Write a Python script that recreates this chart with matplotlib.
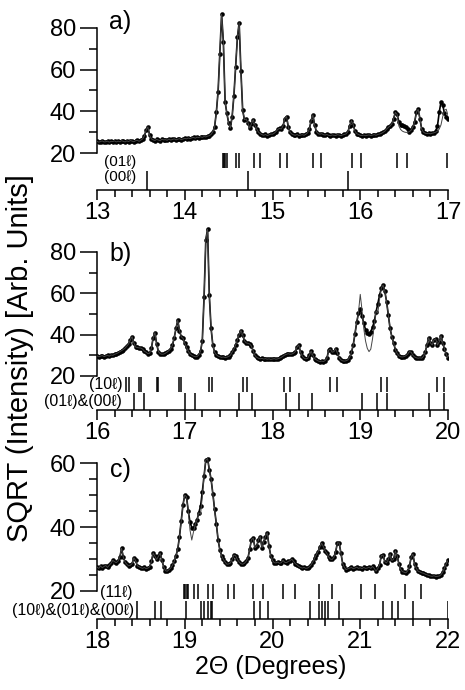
import numpy as np
import matplotlib
matplotlib.use('Agg')
import matplotlib.pyplot as plt
from matplotlib.ticker import MultipleLocator, FixedLocator

plt.rcParams['font.family'] = ['Liberation Sans', 'DejaVu Sans']

# ---------------- data ----------------
STEP = 0.02

# panel a: 13.00 .. 17.00, step 0.02 (rows of 10 points = 0.2 deg)
obs_a = [
    25.6, 25.2, 25.5, 25.8, 25.3, 25.4, 25.7, 25.2, 25.6, 25.5,   # 13.0
    25.8, 25.3, 25.7, 25.4, 25.9, 25.6, 25.3, 25.8, 25.5, 26.0,   # 13.2
    25.7, 25.4, 25.9, 26.1, 25.6, 26.2, 26.8, 28.2, 31.0, 32.5,   # 13.4
    28.5, 26.8, 26.3, 26.0, 26.5, 26.2, 25.9, 26.6, 26.3, 26.4,   # 13.6
    26.1, 26.7, 26.2, 26.5, 26.8, 26.3, 26.6, 26.9, 26.4, 26.7,   # 13.8
    27.0, 26.8, 27.2, 26.9, 27.3, 27.5, 27.1, 27.6, 27.4, 27.8,   # 14.0
    27.5, 27.9, 27.7, 28.1, 28.3, 28.9, 30.2, 32.5, 39.5, 49.5,   # 14.2
    67.5, 86.5, 73.5, 44.5, 39.0, 34.5, 32.0, 37.5, 47.5, 61.5,   # 14.4
    75.5, 82.5, 59.5, 40.5, 36.0, 36.3, 34.5, 32.0, 34.0, 36.0,   # 14.6
    33.5, 31.5, 30.0, 29.3, 28.8, 28.5, 28.9, 28.4, 28.7, 29.1,   # 14.8
    29.0, 29.5, 30.3, 31.3, 31.8, 31.5, 33.0, 36.5, 37.5, 32.5,   # 15.0
    30.0, 29.1, 28.7, 28.5, 28.9, 28.4, 28.6, 28.8, 28.5, 29.0,   # 15.2
    29.7, 31.5, 35.5, 38.3, 33.5, 30.3, 29.3, 29.0, 29.3, 28.8,   # 15.4
    28.6, 28.9, 28.5, 28.3, 28.7, 28.5, 28.4, 28.8, 28.6, 28.3,   # 15.6
    28.7, 28.9, 29.2, 30.3, 33.0, 35.5, 33.5, 30.5, 29.3, 28.9,   # 15.8
    28.5, 28.4, 28.6, 28.3, 28.5, 28.7, 28.4, 28.6, 28.8, 28.5,   # 16.0
    28.9, 29.1, 29.4, 29.9, 30.5, 31.5, 32.3, 33.0, 34.0, 36.5,   # 16.2
    39.5, 38.5, 35.0, 33.5, 33.3, 33.0, 32.5, 31.5, 30.3, 31.0,   # 16.4
    32.5, 35.0, 39.5, 41.0, 36.5, 31.5, 30.0, 29.5, 29.3, 29.5,   # 16.6
    29.2, 29.5, 29.7, 30.5, 33.0, 39.5, 44.5, 43.0, 39.0, 37.5,   # 16.8
    36.5,                                                          # 17.0
]
calc_a_fix_x = [16.44, 16.46, 16.48, 16.50, 16.52, 16.54, 16.56,
                16.86, 16.88, 16.90, 16.92, 16.94, 16.96, 16.98, 17.00]
calc_a_fix_y = [33.0, 31.3, 30.5, 30.1, 29.9, 29.9, 30.3,
                30.0, 30.5, 31.5, 33.5, 37.5, 40.5, 41.0, 38.0]
refl_a_01l = [14.432, 14.447, 14.462, 14.477, 14.584, 14.618, 14.79, 14.858,
              15.086, 15.16, 15.456, 15.553, 15.905, 16.007, 16.42, 16.533, 16.99]
refl_a_00l = [13.573, 14.72, 15.855]

# panel b: 16.00 .. 20.00
obs_b = [
    29.8, 29.3, 29.6, 29.9, 29.4, 29.7, 30.0, 29.6, 30.2, 30.0,   # 16.0
    30.5, 30.8, 31.2, 31.8, 32.3, 32.8, 33.5, 34.5, 35.5, 37.5,   # 16.2
    39.0, 36.0, 34.0, 33.8, 33.6, 33.5, 33.0, 32.0, 31.5, 30.8,   # 16.4
    31.0, 33.5, 38.5, 41.0, 35.5, 31.8, 30.8, 30.5, 30.6, 31.0,   # 16.6
    31.6, 32.3, 33.2, 35.0, 38.5, 43.0, 47.0, 42.0, 39.0, 38.2,   # 16.8
    36.0, 33.8, 32.0, 30.8, 30.0, 29.6, 29.3, 29.4, 30.2, 32.0,   # 17.0
    37.0, 58.0, 86.0, 91.0, 59.0, 43.0, 35.0, 31.5, 30.3, 29.6,   # 17.2
    29.3, 29.0, 29.2, 28.9, 29.1, 29.4, 30.0, 31.5, 33.0, 35.0,   # 17.4
    37.5, 40.0, 42.0, 40.0, 37.0, 36.0, 35.8, 35.5, 34.5, 32.0,   # 17.6
    30.0, 29.0, 28.6, 28.3, 28.5, 28.2, 28.4, 28.1, 28.3, 28.0,   # 17.8
    28.2, 28.4, 28.1, 28.3, 28.6, 29.0, 29.6, 30.2, 30.5, 30.8,   # 18.0
    30.5, 30.6, 31.0, 31.8, 34.0, 35.0, 31.5, 29.5, 28.6, 28.3,   # 18.2
    28.5, 30.0, 32.0, 30.0, 28.4, 27.8, 27.3, 27.0, 27.2, 27.0,   # 18.4
    27.5, 28.5, 32.5, 33.0, 31.5, 31.8, 33.2, 31.0, 28.8, 27.8,   # 18.6
    27.3, 27.2, 27.4, 27.8, 29.0, 31.5, 35.0, 40.5, 46.0, 50.5,   # 18.8
    52.5, 49.0, 45.5, 42.5, 41.0, 40.5, 41.5, 43.5, 46.5, 51.0,   # 19.0
    55.0, 59.0, 62.5, 64.0, 61.0, 56.0, 49.5, 43.0, 39.0, 36.0,   # 19.2
    32.8, 31.0, 29.8, 29.3, 29.2, 29.4, 29.8, 30.5, 31.8, 31.5,   # 19.4
    30.0, 29.2, 28.8, 28.6, 28.8, 28.6, 29.5, 31.5, 35.0, 38.5,   # 19.6
    36.0, 35.0, 37.5, 38.0, 35.0, 36.5, 39.5, 36.0, 33.0, 30.5,   # 19.8
    28.8,                                                          # 20.0
]
calc_b_fix_x = [18.98, 19.00, 19.02, 19.04, 19.06, 19.08, 19.10, 19.12,
                19.14, 19.16, 19.18, 19.20, 19.22]
calc_b_fix_y = [51.0, 59.5, 52.0, 43.0, 37.0, 33.4, 31.8, 33.0,
                38.0, 44.5, 51.5, 50.5, 57.0]
refl_b_10l = [16.330, 16.368, 16.475, 16.498, 16.68, 16.70, 16.93, 16.957,
              17.272, 17.31, 17.667, 17.71, 18.135, 18.20, 18.655, 18.738,
              19.236, 19.308, 19.871, 19.954]
refl_b_01l_00l = [16.425, 16.539, 17.003, 17.12, 17.618, 17.763, 18.154,
                  18.302, 18.45, 19.024, 19.187, 19.301, 19.783, 19.958]

# panel c: 18.00 .. 22.00
obs_c = [
    27.4, 27.0, 27.8, 27.2, 27.6, 27.9, 27.3, 28.0, 28.6, 29.5,   # 18.0
    29.1, 28.8, 29.3, 30.5, 33.3, 30.5, 29.0, 28.3, 27.8, 28.0,   # 18.2
    28.5, 30.3, 29.5, 27.8, 27.5, 27.2, 27.0, 27.3, 26.9, 27.1,   # 18.4
    27.5, 29.2, 31.8, 30.8, 29.8, 30.8, 31.8, 29.5, 27.5, 26.3,   # 18.6
    26.1, 26.6, 27.1, 28.0, 29.2, 31.0, 33.0, 37.0, 42.0, 47.0,   # 18.8
    50.0, 49.5, 45.0, 41.5, 39.8, 39.8, 40.8, 42.2, 44.5, 46.5,   # 19.0
    51.0, 56.0, 61.0, 61.5, 58.0, 55.0, 50.5, 45.5, 41.0, 36.0,   # 19.2
    32.8, 31.0, 29.8, 29.0, 28.3, 28.4, 28.7, 29.8, 31.2, 31.0,   # 19.4
    29.8, 29.0, 28.5, 28.3, 28.6, 29.2, 30.2, 33.0, 36.0, 36.5,   # 19.6
    33.5, 34.0, 36.0, 37.0, 33.5, 35.4, 37.0, 38.2, 34.0, 31.0,   # 19.8
    29.5, 28.8, 28.7, 29.0, 28.6, 28.8, 29.5, 28.9, 28.8, 29.2,   # 20.0
    29.4, 29.9, 29.2, 28.5, 28.1, 27.6, 27.3, 27.1, 27.3, 27.0,   # 20.2
    27.1, 27.5, 28.1, 29.0, 30.2, 31.3, 32.3, 33.8, 34.9, 33.8,   # 20.4
    32.5, 31.7, 30.6, 29.9, 29.8, 30.5, 32.3, 35.0, 35.0, 31.7,   # 20.6
    28.5, 27.3, 26.6, 26.9, 27.1, 27.3, 26.9, 27.1, 27.4, 27.0,   # 20.8
    27.2, 26.9, 27.3, 27.0, 27.1, 27.4, 27.0, 27.6, 27.0, 26.1,   # 21.0
    27.0, 28.1, 31.0, 31.2, 29.1, 28.7, 29.8, 31.5, 29.5, 29.8,   # 21.2
    32.5, 31.0, 28.5, 26.8, 26.0, 25.8, 25.6, 26.2, 27.6, 30.5,   # 21.4
    31.5, 28.3, 27.0, 26.1, 25.9, 25.6, 25.5, 25.2, 25.0, 24.8,   # 21.6
    24.6, 24.5, 24.7, 24.4, 24.5, 24.6, 25.0, 25.8, 27.1, 28.5,   # 21.8
    29.5,                                                          # 22.0
]
calc_c_fix_x = [19.06, 19.08, 19.10, 19.18, 19.20]
calc_c_fix_y = [39.0, 35.9, 38.5, 44.0, 49.5]
refl_c_11l = [18.991, 19.006, 19.022, 19.04, 19.109, 19.155, 19.269, 19.326,
              19.489, 19.565, 19.774, 19.896, 20.124, 20.256, 20.53, 20.682,
              21.005, 21.164, 21.51, 21.692]
refl_c_mix = [18.459, 18.661, 18.726, 19.014, 19.181, 19.219, 19.269, 19.296,
              19.311, 19.793, 19.861, 19.949, 20.431, 20.534, 20.568, 20.598,
              20.629, 20.761, 21.256, 21.359, 21.427, 21.598, 21.997]

# ---------------- figure ----------------
W, H = 465, 690
fig = plt.figure(figsize=(W / 100, H / 100), dpi=100)

LEFT_PX, RIGHT_PX = 97, 448


def make_axes(y20_px, px_per_unit, spine_px, ymax):
    lo = 20 - (spine_px - y20_px) / px_per_unit
    top_px = y20_px - (ymax - 20) * px_per_unit
    ax = fig.add_axes([LEFT_PX / W, 1 - spine_px / H,
                       (RIGHT_PX - LEFT_PX) / W, (spine_px - top_px) / H])
    ax.set_ylim(lo, ymax)
    return ax


def style(ax, x0, x1, ymaj, ymin, ytop):
    ax.set_xlim(x0, x1)
    for s in ('top', 'right'):
        ax.spines[s].set_visible(False)
    ax.spines['left'].set_bounds(20, ytop)
    for s in ('left', 'bottom'):
        ax.spines[s].set_linewidth(1.1)
    ax.yaxis.set_major_locator(FixedLocator(ymaj))
    ax.yaxis.set_minor_locator(FixedLocator(ymin))
    ax.xaxis.set_major_locator(MultipleLocator(1))
    ax.xaxis.set_minor_locator(MultipleLocator(0.2))
    ax.tick_params(axis='y', which='major', direction='out', length=12,
                   width=1.1, labelsize=17, pad=3)
    ax.tick_params(axis='y', which='minor', direction='out', length=6,
                   width=1.1)
    ax.tick_params(axis='x', which='major', direction='out', length=7.5,
                   width=1.1, labelsize=17, pad=1)
    ax.tick_params(axis='x', which='minor', direction='out', length=5,
                   width=1.1)
    ax.patch.set_visible(False)


def draw(ax, x0, obs, fix_x, fix_y):
    x = x0 + STEP * np.arange(len(obs))
    obs = np.asarray(obs, dtype=float)
    calc = obs.copy()
    for fx, fy in zip(fix_x, fix_y):
        calc[int(round((fx - x0) / STEP))] = fy
    ax.plot(x, obs, '-', lw=1.2, color='black', zorder=3)
    ax.plot(x, obs, 'o', ms=3.3, color='black', mew=0, zorder=3)
    ax.plot(x, calc, '-', lw=0.7, color='#444444', zorder=4)


def refl(ax, pos, ylo, yhi):
    ax.vlines(pos, ylo, yhi, color='black', lw=1.1, zorder=2)


lab_kw = dict(va='center', family=['Liberation Sans', 'DejaVu Sans'])

# panel a
axa = make_axes(153, 125 / 60, 190, 93)
style(axa, 13, 17, [20, 40, 60, 80], [30, 50, 70], 80)
draw(axa, 13.0, obs_a, calc_a_fix_x, calc_a_fix_y)
lo = axa.get_ylim()[0]
refl(axa, refl_a_01l, 12.8, 20.0)
refl(axa, refl_a_00l, lo, 11.4)
axa.text(13.08, 15.7, '(01ℓ)', ha='left', fontsize=11, **lab_kw)
axa.text(13.08, 8.3, '(00ℓ)', ha='left', fontsize=11, **lab_kw)
axa.text(13.137, 82.9, 'a)', fontsize=18, ha='left', va='center')

# panel b
axb = make_axes(376, 124 / 60, 410, 95)
style(axb, 16, 20, [20, 40, 60, 80], [30, 50, 70], 80)
draw(axb, 16.0, obs_b, calc_b_fix_x, calc_b_fix_y)
lo = axb.get_ylim()[0]
refl(axb, refl_b_10l, 12.3, 19.5)
refl(axb, refl_b_01l_00l, lo, 11.8)
axb.text(16.296, 16.1, '(10ℓ)', ha='right', fontsize=11.5, **lab_kw)
axb.text(16.285, 7.9, '(01ℓ)&(00ℓ)', ha='right', fontsize=11.5, **lab_kw)
axb.text(16.137, 79.0, 'b)', fontsize=18, ha='left', va='center')

# panel c
axc = make_axes(590.7, 127.4 / 40, 619, 65)
style(axc, 18, 22, [20, 40, 60], [25, 30, 35, 45, 50, 55], 60)
draw(axc, 18.0, obs_c, calc_c_fix_x, calc_c_fix_y)
lo = axc.get_ylim()[0]
refl(axc, refl_c_11l, 17.4, 22.1)
refl(axc, refl_c_mix, lo, 16.8)
axc.text(18.41, 19.3, '(11ℓ)', ha='right', fontsize=11.5, **lab_kw)
axc.text(18.42, 13.9, '(10ℓ)&(01ℓ)&(00ℓ)', ha='right', fontsize=11.5, **lab_kw)
axc.text(18.148, 57.9, 'c)', fontsize=18, ha='left', va='center')

fig.text(20 / W, 1 - 358 / H, 'SQRT (Intensity) [Arb. Units]', rotation=90,
         ha='center', va='center', fontsize=21)
fig.text(271 / W, 1 - 667 / H, '2Θ (Degrees)', ha='center', va='center',
         fontsize=18)

fig.savefig('out.png', dpi=100)
